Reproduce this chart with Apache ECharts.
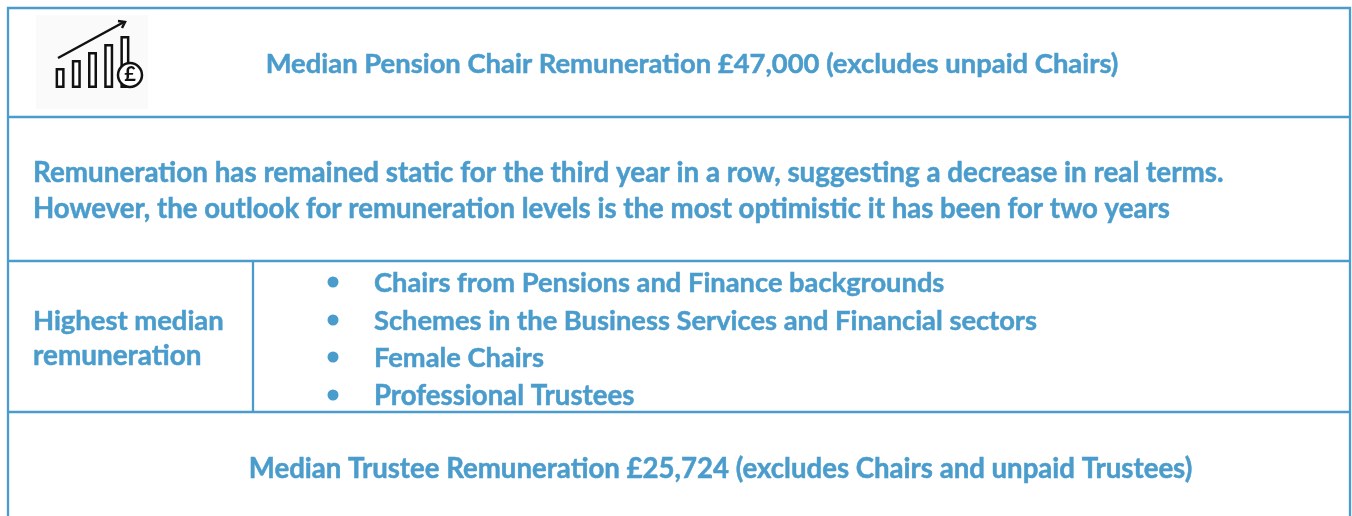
<!DOCTYPE html>
<html>
<head>
<meta charset="UTF-8">
<title>Median Pension Chair Remuneration</title>
<script src="https://cdn.jsdelivr.net/npm/echarts@6/dist/echarts.min.js"></script>
<style>
html, body { margin: 0; padding: 0; background: #fff; }
#main { width: 1352px; height: 516px; }
</style>
</head>
<body>
<div id="main"></div>
<script>
var chairTitle = 'Median Pension Chair Remuneration £47,000 (excludes unpaid Chairs)';
var summaryLines = [
	'Remuneration has remained static for the third year in a row, suggesting a decrease in real terms.',
	'However, the outlook for remuneration levels is the most optimistic it has been for two years'
];
var sideLabel = ['Highest median', 'remuneration'];
var bullets = [
	'Chairs from Pensions and Finance backgrounds',
	'Schemes in the Business Services and Financial sectors',
	'Female Chairs',
	'Professional Trustees'
];
var trusteeTitle = 'Median Trustee Remuneration £25,724 (excludes Chairs and unpaid Trustees)';
// bars of the little icon
var iconCategories = ['a', 'b', 'c', 'd', 'e'];
var iconBars = [20, 28, 36, 44, 52];

var blue = '#4a9ccc';
var fontFamily = 'Lato, "Open Sans", sans-serif';

function label(text, x, y, size, align) {
	return {
		type : 'text',
		x : x,
		y : y,
		z : 20,
		style : {
			text : text,
			fill : blue,
			stroke : blue,
			lineWidth : 0.5,
			font : 'bold ' + size + 'px ' + fontFamily,
			textAlign : align || 'left',
			textVerticalAlign : 'middle'
		}
	};
}

function rule(x1, y1, x2, y2) {
	return {
		type : 'line',
		z : 15,
		shape : { x1 : x1, y1 : y1, x2 : x2, y2 : y2 },
		style : { stroke : blue, lineWidth : 2.3 }
	};
}

var elements = [
	// icon backdrop and the parts a bar series can't draw
	{ type : 'rect', z : -1, shape : { x : 36, y : 15, width : 112, height : 94 }, style : { fill : '#fafafa' } },
	{ type : 'polyline', z : 12, shape : { points : [ [ 58, 58 ], [ 124, 22 ] ] }, style : { stroke : '#111', lineWidth : 2.5, fill : null } },
	{ type : 'polyline', z : 12, shape : { points : [ [ 118, 21 ], [ 125, 22 ], [ 122, 28 ] ] }, style : { stroke : '#111', lineWidth : 2.5, fill : null } },
	{ type : 'circle', z : 12, shape : { cx : 130, cy : 75, r : 12 }, style : { fill : '#fff', stroke : '#111', lineWidth : 2.5 } },
	{ type : 'text', x : 130, y : 75, z : 13, style : { text : '£', fill : '#111', font : 'bold 20px ' + fontFamily, textAlign : 'center', textVerticalAlign : 'middle' } },

	// table rules
	rule(7, 8, 1351, 8),
	rule(8, 7, 8, 516),
	rule(1350, 7, 1350, 516),
	rule(7, 117, 1351, 117),
	rule(7, 261, 1351, 261),
	rule(7, 412, 1351, 412),
	rule(253, 261, 253, 412),

	label(chairTitle, 692, 64, 27.4, 'center'),
	label(summaryLines[0], 33, 173, 27.8),
	label(summaryLines[1], 33, 209, 27.6),
	label(sideLabel[0], 33, 321, 27.4),
	label(sideLabel[1], 33, 356, 27.9),
	label(trusteeTitle, 720.5, 469, 27.6, 'center')
];

var bulletY = [ 283, 321, 358, 396 ];
bullets.forEach(function(text, i) {
	elements.push({ type : 'circle', z : 15, shape : { cx : 333, cy : bulletY[i] - 1, r : 5.5 }, style : { fill : blue } });
	elements.push(label(text, 374, bulletY[i], i == 3 ? 27.6 : 27.3));
});

var myChart = echarts.init(document.getElementById('main'));
myChart.setOption({
	animation : false,
	grid : { left : 52, top : 36, width : 81, height : 52 },
	xAxis : { type : 'category', data : iconCategories, show : false },
	yAxis : { type : 'value', min : 0, max : 52, show : false },
	series : [ {
		type : 'bar',
		data : iconBars,
		barWidth : 9,
		z : 5,
		itemStyle : { color : '#fff', borderColor : '#111', borderWidth : 2.5 }
	} ],
	graphic : { elements : elements }
});
</script>
</body>
</html>
